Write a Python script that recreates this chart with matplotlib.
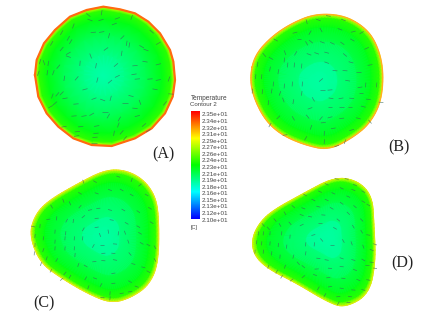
import numpy as np
import matplotlib.pyplot as plt
from matplotlib.collections import LineCollection
from matplotlib.colors import LinearSegmentedColormap

# outlines (crop px = 3 x image px)
a_outline = [(45,225),(50,180),(72,130),(105,90),(150,50),(200,30),(250,20),(300,28),(345,40),(385,65),(420,100),(450,150),
             (460,185),(465,240),(458,290),(435,340),(395,385),(345,415),(275,438),(215,435),(160,415),(115,380),(80,340),(55,290)]
b_outline = [(45,200),(60,135),(110,80),(170,40),(240,12),(320,15),(380,45),(420,90),(445,170),(440,270),(405,340),(350,385),
             (280,420),(210,405),(140,375),(90,330),(55,260)]
c_outline = [(43,195),(60,135),(100,92),(190,40),(270,0),(330,0),(385,28),(422,80),(432,150),(430,280),(402,345),(350,382),
             (290,400),(220,372),(140,325),(75,278)]
d_outline = [(50,225),(70,178),(110,138),(200,88),(300,35),(370,48),(412,95),(417,180),(422,290),(402,388),(330,428),(280,412),
             (180,352),(100,312),(58,272)]

# hottest-looking centre of the green field, crop px
a_centre = (250, 225)
b_centre = (250, 215)
c_centre = (265, 200)
d_centre = (280, 220)

# where each panel's crop starts in the image
a_offset = (20, 0)
b_offset = (235, 10)
c_offset = (15, 170)
d_offset = (235, 165)

# temperature from centre to wall
ring_pos = [0, 0.3, 0.6, 0.82, 0.95, 1.0]
ring_temp = [21.82, 21.92, 22.06, 22.2, 22.36, 22.8]

# velocity marks: x, y, angle (crop px, degrees)
a_vec = [(205,45,-40),(245,38,80),(210,60,-20),(243,60,15),(283,72,20),(292,55,20),(335,52,70),(160,78,70),(125,98,60),(95,130,60),
         (220,97,5),(245,96,10),(267,107,75),(307,112,45),(320,130,80),(328,135,80),(152,125,60),(145,115,60),(125,147,50),(145,160,30),
         (145,170,-20),(212,168,-70),(258,147,35),(305,160,80),(365,140,-30),(378,150,-20),(395,95,-40),(415,130,30),(60,185,75),(72,188,-70),
         (85,190,80),(180,190,85),(228,197,80),(288,195,40),(345,197,5),(375,185,-10),(415,193,15),(115,200,50),(100,218,70),(55,220,70),
         (82,218,80),(133,235,80),(170,235,50),(232,240,75),(270,245,40),(292,229,25),(342,223,10),(352,237,5),(390,237,5),(415,240,10),
         (447,237,70),(195,268,15),(405,268,-10),(453,282,-5),(97,288,70),(112,283,50),(125,280,45),(135,295,10),(105,310,40),(92,320,30),
         (168,312,5),(222,296,20),(248,300,-20),(272,295,75),(315,308,0),(333,288,-15),(360,307,-70),(345,325,-5),(435,310,50),(162,348,5),
         (192,348,10),(215,343,30),(255,335,0),(265,348,60),(298,357,60),(352,348,15),(295,375,70),(230,378,10),(182,380,5),(132,380,10),
         (172,395,5),(228,400,5),(282,400,80),(305,397,50),(372,375,40),(225,412,5),(170,408,10),(315,415,50),(385,392,30),(222,428,0)]
b_vec = [(215,35,-75),(280,18,-10),(250,30,-20),(225,68,60),(258,60,-60),(315,58,-20),(355,65,15),(380,68,30),(325,30,-20),(180,68,15),
         (122,90,-30),(192,88,0),(215,100,-60),(228,95,-40),(262,97,-20),(292,100,-25),(322,100,-35),(352,90,-30),(395,115,25),(88,135,-50),
         (108,145,-30),(150,128,-70),(148,150,85),(182,130,60),(222,133,-20),(245,130,-20),(275,128,-15),(330,135,-40),(348,157,-15),(405,165,10),
         (68,163,85),(105,177,80),(130,185,80),(158,165,85),(178,165,85),(200,168,85),(275,158,-20),(300,182,-5),(330,182,-5),(370,185,0),
         (62,200,85),(80,200,85),(115,222,85),(148,228,85),(172,222,85),(202,222,85),(258,210,40),(338,212,-10),(392,225,85),(425,225,85),
         (52,243,85),(82,245,85),(110,243,80),(135,250,70),(200,250,80),(262,240,0),(285,240,5),(375,232,10),(378,248,0),(100,278,85),
         (145,270,-70),(175,275,80),(235,268,-60),(288,265,-10),(318,265,10),(350,265,-5),(400,268,-5),(438,277,-5),(225,295,20),(285,292,0),
         (320,292,0),(345,292,0),(385,290,-15),(130,322,45),(175,325,-60),(218,320,-50),(258,325,50),(285,322,15),(320,325,5),(370,325,-15),
         (405,335,-50),(105,345,60),(228,352,70),(265,338,5),(295,355,10),(350,360,15),(150,375,10),(212,385,60),(268,370,85),(330,395,70),
         (268,395,85),(305,408,20)]
c_vec = [(205,35,-70),(240,35,-30),(310,20,-20),(350,30,70),(375,45,40),(145,92,-70),(195,70,-30),(245,70,-20),(285,60,-20),(320,60,-30),
         (350,75,-30),(395,75,-30),(110,110,-60),(165,100,-70),(195,110,50),(225,120,10),(250,115,5),(285,120,-15),(325,120,-30),(370,125,-35),
         (405,115,-30),(100,148,10),(125,145,85),(155,152,60),(175,153,80),(205,140,40),(245,145,5),(290,150,-10),(335,160,-30),(370,170,-30),
         (410,158,-30),(55,170,-10),(75,168,85),(120,185,85),(152,190,85),(205,178,60),(245,172,10),(280,185,-80),(310,190,85),(330,188,-70),
         (375,190,-30),(60,198,85),(85,205,85),(120,215,85),(150,205,85),(178,205,85),(203,205,85),(255,195,-70),(340,215,-70),(380,220,-30),
         (420,232,-60),(60,225,85),(85,240,70),(120,235,85),(150,235,85),(178,235,85),(235,228,60),(262,225,0),(300,222,-5),(400,225,-30),
         (58,250,85),(95,265,70),(125,270,60),(180,255,85),(265,250,5),(295,250,-5),(345,252,-50),(420,270,-60),(78,282,70),(108,302,60),
         (150,310,50),(190,285,70),(212,288,-30),(238,275,5),(265,272,-5),(300,270,-10),(355,282,-15),(385,292,-15),(140,328,40),(165,320,60),
         (212,325,60),(240,325,-20),(295,310,10),(345,335,-30),(400,305,-30),(220,352,70),(258,345,60),(295,340,5),(365,350,-20),(285,370,85),
         (320,370,10),(345,365,10),(260,382,0),(285,385,85)]
d_vec = [(305,42,-10),(335,42,-15),(360,60,-20),(275,58,-25),(320,70,-25),(355,75,-20),(385,80,-30),(255,80,-25),(295,85,-25),(340,95,-25),
         (385,110,-30),(210,90,-30),(235,105,-25),(275,105,-25),(320,115,-35),(360,125,-40),(400,120,-30),(175,125,-40),(205,130,-20),(250,125,-15),
         (290,130,-30),(340,145,-45),(380,165,-45),(120,165,-50),(150,145,-60),(200,150,-20),(225,155,-10),(265,150,-5),(310,165,-40),(355,185,-60),
         (400,210,-10),(85,180,-50),(100,190,-50),(135,180,-60),(165,175,-50),(200,180,25),(255,175,0),(300,190,-30),(380,200,-60),(420,238,-20),
         (70,205,85),(85,205,85),(105,205,85),(140,205,85),(165,215,85),(212,238,85),(235,210,15),(260,225,-50),(325,228,-60),(350,235,-70),
         (385,245,-70),(410,255,-20),(65,232,85),(80,235,85),(105,235,85),(130,240,85),(155,245,85),(238,238,85),(290,240,0),(410,292,-10),
         (60,260,85),(85,260,85),(110,265,85),(135,275,85),(175,275,75),(212,265,80),(250,280,-5),(275,285,-10),(320,280,-20),(355,285,-15),
         (385,285,-30),(420,310,-10),(100,305,70),(125,320,60),(150,305,70),(190,295,-50),(205,305,-40),(245,312,5),(285,310,-5),(320,305,-5),
         (360,315,-20),(395,300,0),(170,345,40),(140,335,60),(205,335,40),(240,330,-20),(280,338,5),(325,340,-5),(370,345,-20),(400,345,-10),
         (250,370,60),(285,365,10),(320,370,-10),(355,375,-5),(385,375,-15),(270,390,60),(310,395,5),(345,395,-5),(310,415,60),(340,412,0)]

# legend
bar_labels = ['2.35e+01','2.34e+01','2.32e+01','2.31e+01','2.29e+01','2.27e+01','2.26e+01','2.24e+01','2.23e+01','2.21e+01',
              '2.19e+01','2.18e+01','2.16e+01','2.15e+01','2.13e+01','2.12e+01','2.10e+01']
bar_temp = [23.5, 21.0]

cmap = LinearSegmentedColormap.from_list('fluent', ['#0000ff', '#00ffff', '#00ff00', '#ffff00', '#ff0000'])
tmin = bar_temp[1]
tmax = bar_temp[0]


# corner cutting so the rounded shapes don't look like polygons
def smooth(pts, n=3):
    pts = np.array(pts, dtype=float)
    for i in range(n):
        nxt = np.roll(pts, -1, axis=0)
        q = 0.75 * pts + 0.25 * nxt
        r = 0.25 * pts + 0.75 * nxt
        pts = np.column_stack([q, r]).reshape(-1, 2)
    return pts


def draw_panel(ax, outline, centre, offset, vec, wall, wall_lw, n=3, half=2.4):
    pts = smooth(outline, n) if n else np.array(outline, dtype=float)
    pts = np.vstack([pts, pts[:1]])
    pts = pts / 3 + offset
    c = np.array(centre) / 3 + offset
    X = np.array([c[0] + f * (pts[:, 0] - c[0]) for f in ring_pos])
    Y = np.array([c[1] + f * (pts[:, 1] - c[1]) for f in ring_pos])
    T = np.array([[t] * len(pts) for t in ring_temp])
    ax.pcolormesh(X, Y, T, shading='gouraud', cmap=cmap, vmin=tmin, vmax=tmax)
    ax.plot(pts[:, 0], pts[:, 1], color=wall, lw=wall_lw, solid_joinstyle='round')
    segs = []
    for x, y, ang in vec:
        x0 = x / 3 + offset[0]
        y0 = y / 3 + offset[1]
        dx = half * np.cos(np.radians(ang))
        dy = half * np.sin(np.radians(ang))
        segs.append([(x0 - dx, y0 + dy), (x0 + dx, y0 - dy)])
    ax.add_collection(LineCollection(segs, colors='#3a6a5a', linewidths=0.5, alpha=0.75))


fig = plt.figure(figsize=(4.45, 3.2), dpi=100)
ax = fig.add_axes([0, 0, 1, 1])

draw_panel(ax, a_outline, a_centre, a_offset, a_vec, '#ff6a10', 1.6, n=0, half=2.6)
draw_panel(ax, b_outline, b_centre, b_offset, b_vec, '#ffb020', 1.1)
draw_panel(ax, c_outline, c_centre, c_offset, c_vec, '#e8e020', 0.7, half=2.0)
draw_panel(ax, d_outline, d_centre, d_offset, d_vec, '#d8e810', 0.7, half=2.0)

# colour bar
temps = np.linspace(tmax, tmin, 200)
ax.imshow(temps.reshape(-1, 1), cmap=cmap, vmin=tmin, vmax=tmax, extent=[190.5, 199, 219, 111], aspect='auto')
label_y = np.linspace(115, 220, len(bar_labels))
for lab, y in zip(bar_labels, label_y):
    ax.text(202, y, lab, fontsize=4.5, family='Liberation Sans', color='#444444', va='center')
ax.text(190.5, 98.5, 'Temperature', fontsize=4.7, family='Liberation Sans', color='#444444', va='center')
ax.text(190.5, 104, 'Contour 2', fontsize=4.4, family='Liberation Sans', color='#444444', va='center')
ax.text(190.5, 227, '[C]', fontsize=4, family='Liberation Sans', color='#444444', va='center')

# panel letters
for lab, x, y in [('(A)', 152, 154), ('(B)', 388, 147), ('(C)', 33, 303), ('(D)', 391, 263)]:
    ax.text(x, y, lab, fontsize=11.5, family='Liberation Serif', color='#222222', va='center')

ax.set_xlim(0, 445)
ax.set_ylim(320, 0)
ax.axis('off')
fig.savefig('out.png', dpi=100)
